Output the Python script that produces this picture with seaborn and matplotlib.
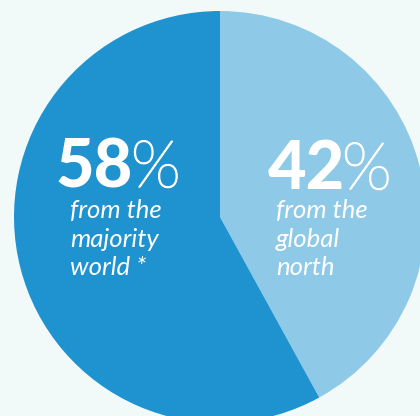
import matplotlib
matplotlib.use('Agg')
import matplotlib.pyplot as plt
import matplotlib.patheffects as pe
import seaborn as sns

# shares of respondents
groups = ['global north', 'majority world']
shares = [42, 58]
big_labels = ['42', '58']
sub_labels = ['from the\nglobal\nnorth', 'from the\nmajority\nworld *']

bg = '#f2faf9'
colors = ['#8ecae8', '#1e93d0']

sns.set_style('white')
plt.rcParams['font.family'] = ['Lato', 'DejaVu Sans']

fig = plt.figure(figsize=(4.2, 4.16), dpi=100, facecolor=bg)
ax = fig.add_axes([0, 0, 1, 1])
ax.set_facecolor(bg)

ax.pie(shares, colors=colors, startangle=90, counterclock=False,
       center=(220, 199), radius=206, frame=True,
       wedgeprops=dict(linewidth=0))
ax.set_xlim(0, 420)
ax.set_ylim(0, 416)
ax.set_aspect('equal')
ax.axis('off')

# label placement (pixel coords, y up)
pos = {'42': (268, 227, 342, 276), '58': (56, 229, 131, 70)}
thick = [pe.withStroke(linewidth=1.1, foreground='white')]
for big, sub in zip(big_labels, sub_labels):
    x, y, px, sx = pos[big]
    ax.text(x, y, big, color='white', fontsize=48, fontweight='black',
            ha='left', va='baseline')
    ax.text(px, y, '%', color='white', fontsize=47, fontweight='light',
            ha='left', va='baseline', path_effects=thick)
    ax.text(sx, 217, sub, color='white', fontsize=18.5, style='italic',
            ha='left', va='top', linespacing=1.3)

fig.savefig('out.png', dpi=100, facecolor=bg)
